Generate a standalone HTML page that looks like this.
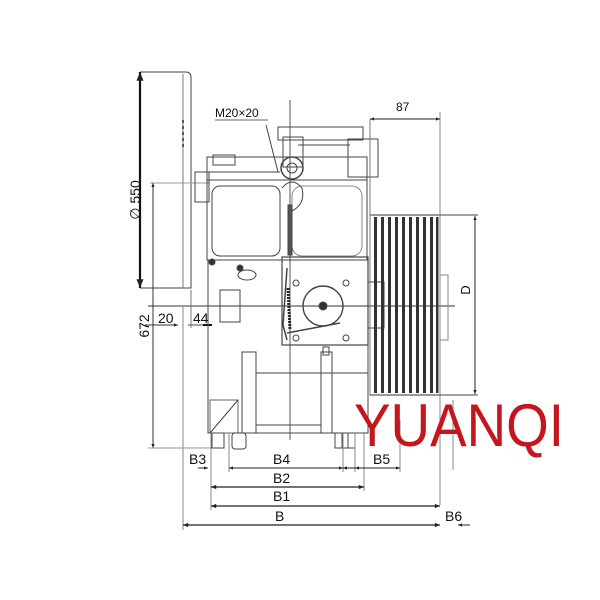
<!DOCTYPE html>
<html><head><meta charset="utf-8"><style>
html,body{margin:0;padding:0;background:#fff;}
svg{display:block;}
text{font-family:"Liberation Sans",sans-serif;fill:#111;}
</style></head><body>
<svg width="600" height="600" viewBox="0 0 600 600" xmlns="http://www.w3.org/2000/svg">
<defs>
<marker id="a" viewBox="0 0 10 10" refX="10" refY="5" markerWidth="5" markerHeight="4" orient="auto-start-reverse"><path d="M0,1 L10,5 L0,9z" fill="#222"/></marker>
</defs>
<g stroke="#444" stroke-width="1" fill="none">
<!-- flywheel -->
<path d="M140,72 L186,72 Q191,72 191,78 L191,288 L140,288"/>
<line x1="140" y1="72" x2="140" y2="288" stroke="#111" stroke-width="2.2" marker-start="url(#a)" marker-end="url(#a)"/>
<line x1="183" y1="74" x2="183" y2="288" stroke="#777"/>
<line x1="183" y1="120" x2="183" y2="150" stroke="#222" stroke-width="1.5" stroke-dasharray="3,3"/>
<!-- 672 dimension -->
<line x1="150" y1="183" x2="210" y2="183" stroke="#999"/>
<line x1="153" y1="183" x2="153" y2="448" stroke="#333" marker-start="url(#a)" marker-end="url(#a)"/>
<line x1="148" y1="448" x2="215" y2="448" stroke="#999"/>
<!-- centerline -->
<line x1="148" y1="306" x2="455" y2="306" stroke="#333"/>
<!-- 20 / 44 -->
<line x1="145" y1="325" x2="178" y2="325" stroke="#333" marker-end="url(#a)"/>
<line x1="188" y1="325" x2="212" y2="325"/>
<line x1="191" y1="290" x2="191" y2="328" stroke="#777"/>
<line x1="203" y1="325" x2="212" y2="325" stroke="#111" stroke-width="2"/>
<!-- upper body -->
<rect x="207" y="157" width="160" height="103"/>
<rect x="212" y="186" width="68" height="70" rx="8"/>
<rect x="292" y="186" width="70" height="70" rx="10" stroke="#888"/>
<rect x="195" y="172" width="14" height="30"/>
<rect x="213" y="155" width="22" height="10"/>
<line x1="207" y1="180" x2="367" y2="180"/>
<line x1="207" y1="172" x2="280" y2="172"/>
<!-- top bracket -->
<rect x="278" y="127" width="85" height="13"/>
<rect x="283" y="137" width="20" height="30"/>
<rect x="348" y="139" width="30" height="38"/>
<line x1="298" y1="145" x2="350" y2="145"/>
<circle cx="292" cy="168" r="11" stroke-width="1.5"/>
<circle cx="292" cy="168" r="5"/>
<path d="M282,188 Q292,176 302,188 Q306,205 290,212"/>
<line x1="290" y1="100" x2="290" y2="440" stroke="#555"/>
<line x1="266" y1="125" x2="278" y2="172"/>
<line x1="215" y1="120" x2="268" y2="120" stroke="#666"/>
<rect x="288" y="205" width="4" height="50" fill="#555"/>
<!-- lower body -->
<rect x="208" y="260" width="160" height="173"/>
<rect x="220" y="290" width="20" height="32"/>
<rect x="282" y="257" width="86" height="88" stroke-width="1.2"/>
<rect x="368" y="282" width="16" height="46"/>
<circle cx="323" cy="306" r="20" stroke-width="1.4"/>
<circle cx="323" cy="306" r="4" fill="#333"/>
<path d="M287,268 L283,325 L287,340 M287,333 L340,323" stroke-width="1.5"/>
<line x1="288" y1="288" x2="290" y2="330" stroke="#222" stroke-width="3" stroke-dasharray="2,1"/>
<circle cx="296" cy="283" r="3"/><circle cx="346" cy="283" r="3"/>
<circle cx="296" cy="338" r="3"/><circle cx="346" cy="338" r="3"/>
<circle cx="240" cy="268" r="3" fill="#333"/><circle cx="212" cy="262" r="3" fill="#333"/>
<ellipse cx="247" cy="275" rx="9" ry="5"/>
<rect x="323" y="347" width="6" height="8"/>
<!-- stand -->
<rect x="242" y="352" width="14" height="81"/>
<rect x="321" y="352" width="11" height="81"/>
<line x1="256" y1="373" x2="368" y2="373"/>
<line x1="256" y1="425" x2="321" y2="425"/>
<rect x="210" y="400" width="28" height="33" stroke="#666"/>
<line x1="210" y1="433" x2="238" y2="400"/>
<rect x="212" y="433" width="12" height="15"/>
<rect x="232" y="433" width="14" height="16" rx="3"/>
<rect x="335" y="433" width="20" height="15"/>
<line x1="342" y1="433" x2="342" y2="448"/><line x1="348" y1="433" x2="348" y2="448"/>
<!-- sheave -->
<rect x="370" y="215" width="70" height="180" stroke="#333"/>
<line x1="370" y1="119" x2="370" y2="395" stroke="#777"/>
<line x1="440" y1="112" x2="440" y2="505" stroke="#888"/>
<line x1="440" y1="215" x2="478" y2="215"/>
<line x1="440" y1="395" x2="478" y2="395"/>
<rect x="440" y="275" width="8" height="65" stroke="#888"/>
<line x1="475" y1="216" x2="475" y2="394" stroke="#222" marker-start="url(#a)" marker-end="url(#a)"/>
<line x1="370" y1="119" x2="440" y2="119" stroke="#222" marker-start="url(#a)" marker-end="url(#a)"/>
<!-- bottom dim extension lines -->
<line x1="183" y1="306" x2="183" y2="530" stroke="#888"/>
<line x1="211" y1="433" x2="211" y2="510" stroke="#888"/>
<line x1="229" y1="433" x2="229" y2="472" stroke="#888"/>
<line x1="343" y1="433" x2="343" y2="472" stroke="#888"/>
<line x1="355" y1="433" x2="355" y2="472" stroke="#888"/>
<line x1="364" y1="433" x2="364" y2="491" stroke="#888"/>
<line x1="400" y1="420" x2="400" y2="472" stroke="#888"/>
<line x1="453" y1="400" x2="453" y2="470" stroke="#888"/>
<!-- dims -->
<line x1="198" y1="468" x2="208" y2="468" stroke="#222" marker-end="url(#a)"/>
<line x1="229" y1="468" x2="343" y2="468" stroke="#222" marker-start="url(#a)" marker-end="url(#a)"/>
<line x1="343" y1="468" x2="355" y2="468" stroke="#222" marker-start="url(#a)"/>
<line x1="355" y1="468" x2="400" y2="468" stroke="#222" marker-start="url(#a)" marker-end="url(#a)"/>
<line x1="211" y1="487" x2="364" y2="487" stroke="#222" stroke-width="1.3" marker-start="url(#a)" marker-end="url(#a)"/>
<line x1="211" y1="506" x2="440" y2="506" stroke="#222" stroke-width="1.3" marker-start="url(#a)" marker-end="url(#a)"/>
<line x1="183" y1="525" x2="440" y2="525" stroke="#222" stroke-width="1.3" marker-start="url(#a)" marker-end="url(#a)"/>
<line x1="458" y1="525" x2="470" y2="525" stroke="#222" marker-start="url(#a)"/>
</g>
<!-- grooves -->
<g fill="#333">
<rect x="374" y="217" width="3" height="176"/><rect x="381" y="217" width="3" height="176"/>
<rect x="388" y="217" width="3" height="176"/><rect x="395" y="217" width="3" height="176"/>
<rect x="402" y="217" width="3" height="176"/><rect x="409" y="217" width="3" height="176"/>
<rect x="416" y="217" width="3" height="176"/><rect x="423" y="217" width="3" height="176"/>
<rect x="430" y="217" width="3" height="176"/><rect x="436" y="217" width="2.5" height="176"/>
</g>
<!-- text -->
<text x="215" y="117" font-size="12">M20×20</text>
<text x="396" y="111" font-size="12">87</text>
<text transform="translate(470,290) rotate(-90)" font-size="13" text-anchor="middle">D</text>
<text transform="translate(140,200) rotate(-90)" font-size="14" text-anchor="middle">∅ 550</text>
<text transform="translate(149,326) rotate(-90)" font-size="14" text-anchor="middle">672</text>
<text x="158" y="323" font-size="14">20</text>
<text x="193" y="323" font-size="14">44</text>
<text x="189" y="464" font-size="14">B3</text>
<text x="273" y="464" font-size="14">B4</text>
<text x="373" y="464" font-size="14">B5</text>
<text x="273" y="483" font-size="14">B2</text>
<text x="273" y="501" font-size="14">B1</text>
<text x="275" y="521" font-size="14">B</text>
<text x="445" y="521" font-size="14">B6</text>
<text x="354" y="446" font-size="60" textLength="210" lengthAdjust="spacingAndGlyphs" style="fill:#c4161c;font-weight:normal">YUANQI</text>
</svg>
</body></html>
